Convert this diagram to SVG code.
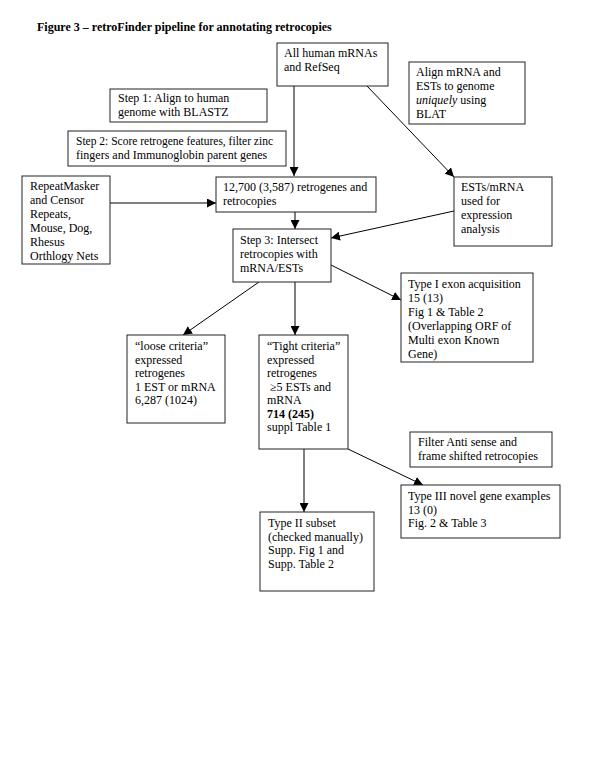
<svg xmlns="http://www.w3.org/2000/svg" width="600" height="776" viewBox="0 0 600 776">
<style>
.b{fill:#fff;stroke:#222;stroke-width:1}
.t{font-family:"Liberation Serif","Times New Roman",serif;font-size:12px;fill:#000}
.c{stroke:#000;stroke-width:1;fill:none}
.ti{font-family:"Liberation Serif","Times New Roman",serif;font-size:12px;font-weight:bold;fill:#000}
</style>
<defs>
<marker id="a" viewBox="0 0 10 10" refX="10" refY="5" markerWidth="9" markerHeight="9" markerUnits="userSpaceOnUse" orient="auto">
<path d="M0,0 L10,5 L0,10 z" fill="#000"/>
</marker>
</defs>
<rect width="600" height="776" fill="#fff"/>
<text class="ti" x="37" y="31">Figure 3 – retroFinder pipeline for annotating retrocopies</text>
<g id="connectors">
<line class="c" x1="294" y1="86" x2="294" y2="176" marker-end="url(#a)"/>
<line class="c" x1="367" y1="86" x2="454" y2="177" marker-end="url(#a)"/>
<line class="c" x1="110" y1="203" x2="216" y2="203" marker-end="url(#a)"/>
<line class="c" x1="295" y1="212" x2="295" y2="229" marker-end="url(#a)"/>
<line class="c" x1="454" y1="211" x2="331" y2="238" marker-end="url(#a)"/>
<line class="c" x1="331" y1="265" x2="401" y2="300" marker-end="url(#a)"/>
<line class="c" x1="259" y1="282" x2="183" y2="335" marker-end="url(#a)"/>
<line class="c" x1="295" y1="282" x2="295" y2="335" marker-end="url(#a)"/>
<line class="c" x1="348" y1="449" x2="423" y2="485" marker-end="url(#a)"/>
<line class="c" x1="304" y1="449" x2="304" y2="512" marker-end="url(#a)"/>
</g>
<g id="n_allhuman"><rect class="b" x="277" y="43" width="111" height="43"/>
<text class="t" x="284" y="57">All human mRNAs</text><text class="t" x="284" y="71">and RefSeq</text></g>
<g id="n_align"><rect class="b" x="409" y="62" width="116" height="62"/>
<text class="t" x="416" y="76">Align mRNA and</text><text class="t" x="416" y="90">ESTs to genome</text>
<text class="t" x="416" y="104"><tspan font-style="italic">uniquely</tspan> using</text><text class="t" x="416" y="118">BLAT</text></g>
<g id="n_step1"><rect class="b" x="110" y="89" width="157" height="33"/>
<text class="t" x="118" y="102">Step 1: Align to human</text><text class="t" x="118" y="116">genome with BLASTZ</text></g>
<g id="n_step2"><rect class="b" x="68" y="131" width="218" height="35"/>
<text class="t" x="76" y="145" textLength="197" lengthAdjust="spacingAndGlyphs">Step 2: Score retrogene features, filter zinc</text><text class="t" x="76" y="159" font-size="11.5">fingers and Immunoglobin parent genes</text></g>
<g id="n_repeat"><rect class="b" x="22" y="176" width="88" height="88"/>
<text class="t" x="30" y="190">RepeatMasker</text><text class="t" x="30" y="204">and Censor</text>
<text class="t" x="30" y="218">Repeats,</text><text class="t" x="30" y="232">Mouse, Dog,</text>
<text class="t" x="30" y="246">Rhesus</text><text class="t" x="30" y="260">Orthlogy Nets</text></g>
<g id="n_12700"><rect class="b" x="216" y="177" width="160" height="35"/>
<text class="t" x="223" y="191">12,700 (3,587) retrogenes and</text><text class="t" x="223" y="205">retrocopies</text></g>
<g id="n_ests"><rect class="b" x="454" y="177" width="98" height="69"/>
<text class="t" x="461" y="191">ESTs/mRNA</text><text class="t" x="461" y="205">used for</text>
<text class="t" x="461" y="219">expression</text><text class="t" x="461" y="233">analysis</text></g>
<g id="n_step3"><rect class="b" x="233" y="229" width="98" height="53"/>
<text class="t" x="240" y="244">Step 3: Intersect</text><text class="t" x="240" y="258">retrocopies with</text><text class="t" x="240" y="272">mRNA/ESTs</text></g>
<g id="n_type1"><rect class="b" x="401" y="273" width="132" height="89"/>
<text class="t" x="408" y="288">Type I exon acquisition</text><text class="t" x="408" y="302">15 (13)</text>
<text class="t" x="408" y="316">Fig 1 &amp; Table 2</text><text class="t" x="408" y="330">(Overlapping ORF of</text>
<text class="t" x="408" y="344">Multi exon Known</text><text class="t" x="408" y="358">Gene)</text></g>
<g id="n_loose"><rect class="b" x="127" y="335" width="98" height="88"/>
<text class="t" x="135" y="350">“loose criteria”</text><text class="t" x="135" y="363.5">expressed</text>
<text class="t" x="135" y="377">retrogenes</text><text class="t" x="135" y="390.5">1 EST or mRNA</text>
<text class="t" x="135" y="404">6,287 (1024)</text></g>
<g id="n_tight"><rect class="b" x="259" y="335" width="89" height="114"/>
<text class="t" x="267" y="350">“Tight criteria”</text><text class="t" x="267" y="363.5">expressed</text>
<text class="t" x="267" y="377">retrogenes</text><text class="t" x="270" y="390.5">≥5 ESTs and</text>
<text class="t" x="267" y="404">mRNA</text><text class="t" x="267" y="417.5" font-weight="bold">714 (245)</text>
<text class="t" x="267" y="431">suppl Table 1</text></g>
<g id="n_filter"><rect class="b" x="410" y="432" width="142" height="35"/>
<text class="t" x="418" y="446">Filter Anti sense and</text><text class="t" x="418" y="459.5">frame shifted retrocopies</text></g>
<g id="n_type3"><rect class="b" x="401" y="485" width="159" height="53"/>
<text class="t" x="408" y="500">Type III novel gene examples</text><text class="t" x="408" y="513.5">13 (0)</text>
<text class="t" x="408" y="527">Fig. 2 &amp; Table 3</text></g>
<g id="n_type2"><rect class="b" x="260" y="512" width="114" height="79"/>
<text class="t" x="268" y="527">Type II subset</text><text class="t" x="268" y="540.5">(checked manually)</text>
<text class="t" x="268" y="554">Supp. Fig 1 and</text><text class="t" x="268" y="567.5">Supp. Table 2</text></g>
</svg>
